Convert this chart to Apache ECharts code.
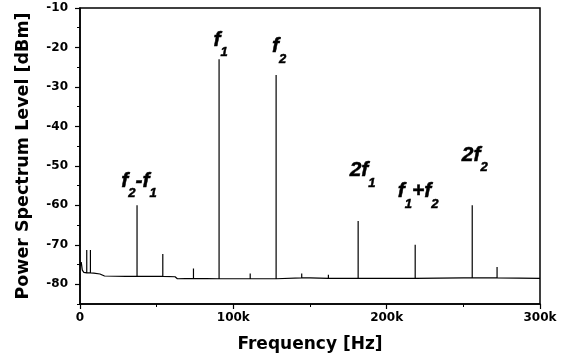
<!DOCTYPE html>
<html>
<head>
<meta charset="utf-8">
<script src="https://cdn.jsdelivr.net/npm/echarts@6/dist/echarts.min.js"></script>
<style>
  html, body { margin: 0; padding: 0; background: #fff; }
  #chart { width: 566px; height: 360px; }
</style>
</head>
<body>
<div id="chart"></div>
<script>
// noise floor (Hz, dBm)
const floorFreq  = [0, 800, 1500, 2500, 5000, 9000, 13000, 16000, 30000, 45000, 62000, 63500, 100000, 150000, 200000, 250000, 300000];
const floorLevel = [-75.3, -74.4, -76.4, -77.0, -77.1, -77.2, -77.4, -77.9, -78.0, -78.0, -78.1, -78.6, -78.6, -78.4, -78.5, -78.4, -78.5];

// labelled tones
const mainFreq  = [37200, 90700, 127900, 181400, 218600, 255800];
const mainPeak  = [-60, -23, -27, -64, -70, -60];
const mainBase  = [-78.0, -78.6, -78.6, -78.5, -78.5, -78.4];
const mainLabel = ['{i|f}{s|2}{i|-f}{s|1}', '{i|f}{s|1}', '{i|f}{s|2}', '{i|2f}{s|1}', '{i|f}{s|1}{i|+f}{s|2}', '{i|2f}{s|2}'];

// small spurs
const spurFreq = [4400, 6800, 54000, 74000, 111000, 144600, 162000, 272000];
const spurPeak = [-71.3, -71.3, -72.3, -76.0, -77.3, -77.3, -77.6, -75.6];
const spurBase = [-77.1, -77.1, -78.0, -78.5, -78.6, -78.4, -78.5, -78.4];

// axis ticks
const xMajor = [0, 100000, 200000, 300000];
const xMinor = [50000, 150000, 250000];
const yMajor = [-80, -70, -60, -50, -40, -30, -20, -10];
const yMinor = [-85, -75, -65, -55, -45, -35, -25, -15];

// label placement (px): [dx, distance above peak]
const labelShift = [[2, 5], [1.5, 0], [3, 9], [4.5, 31], [3, 34], [2.5, 31]];

const pts = floorFreq.map((f, i) => [f, floorLevel[i]]);
mainFreq.forEach((f, i) => { pts.push([f, mainBase[i]], [f, mainPeak[i]], [f, mainBase[i]]); });
spurFreq.forEach((f, i) => { pts.push([f, spurBase[i]], [f, spurPeak[i]], [f, spurBase[i]]); });
pts.sort((a, b) => a[0] - b[0]);

const chart = echarts.init(document.getElementById('chart'));

const tickFont = { fontFamily: 'DejaVu Sans', fontWeight: 'bold', fontSize: 12, color: '#000' };
const nameFont = { fontFamily: 'DejaVu Sans', fontWeight: 'bold', fontSize: 17, color: '#000' };
const annFont = { fontFamily: 'Liberation Sans', fontStyle: 'italic', fontWeight: 'bold', color: '#000',
  textBorderColor: '#000', textBorderWidth: 0.5 };

chart.setOption({
  animation: false,
  backgroundColor: '#fff',
  grid: { left: 80, right: 26, top: 8, bottom: 56, show: true, borderColor: '#000', borderWidth: 1.5 },
  xAxis: [{
    type: 'value', min: 0, max: 300000,
    name: 'Frequency [Hz]', nameLocation: 'middle', nameGap: 32, nameTextStyle: nameFont,
    axisLine: { show: true, lineStyle: { color: '#000', width: 1.5 } },
    axisTick: { show: true, length: 5, customValues: xMajor, lineStyle: { color: '#000', width: 1.2 } },
    axisLabel: Object.assign({ margin: 8, customValues: xMajor,
      formatter: v => v === 0 ? '0' : (v / 1000) + 'k' }, tickFont),
    splitLine: { show: false }
  }, {
    type: 'value', min: 0, max: 300000, position: 'bottom',
    axisLine: { show: false },
    axisTick: { show: true, length: 3, customValues: xMinor, lineStyle: { color: '#000', width: 1 } },
    axisLabel: { show: false },
    splitLine: { show: false }
  }],
  yAxis: [{
    type: 'value', min: -85, max: -10,
    name: 'Power Spectrum Level [dBm]', nameLocation: 'middle', nameGap: 48,
    nameTextStyle: Object.assign({}, nameFont, { fontSize: 17.5 }),
    axisLine: { show: true, lineStyle: { color: '#000', width: 1.5 } },
    axisTick: { show: true, length: 5, customValues: yMajor, lineStyle: { color: '#000', width: 1.2 } },
    axisLabel: Object.assign({ margin: 12, customValues: yMajor }, tickFont),
    splitLine: { show: false }
  }, {
    type: 'value', min: -85, max: -10, position: 'left',
    axisLine: { show: false },
    axisTick: { show: true, length: 3, customValues: yMinor, lineStyle: { color: '#000', width: 1 } },
    axisLabel: { show: false },
    splitLine: { show: false }
  }],
  series: [{
    type: 'line',
    xAxisIndex: 0, yAxisIndex: 0,
    data: pts,
    symbol: 'none',
    silent: true,
    lineStyle: { color: '#000', width: 1.2 }
  }, {
    type: 'scatter',
    xAxisIndex: 0, yAxisIndex: 0,
    symbolSize: 0,
    silent: true,
    itemStyle: { opacity: 1 },
    data: mainFreq.map((f, i) => ({
      value: [f, mainPeak[i]],
      label: { show: true, position: 'top', distance: labelShift[i][1], offset: [labelShift[i][0], 0], formatter: mainLabel[i] }
    })),
    label: {
      show: true,
      rich: {
        i: Object.assign({ fontSize: 21, lineHeight: 22, verticalAlign: 'top' }, annFont),
        s: Object.assign({ fontSize: 13, lineHeight: 30, verticalAlign: 'bottom' }, annFont)
      }
    }
  }]
});
</script>
</body>
</html>
